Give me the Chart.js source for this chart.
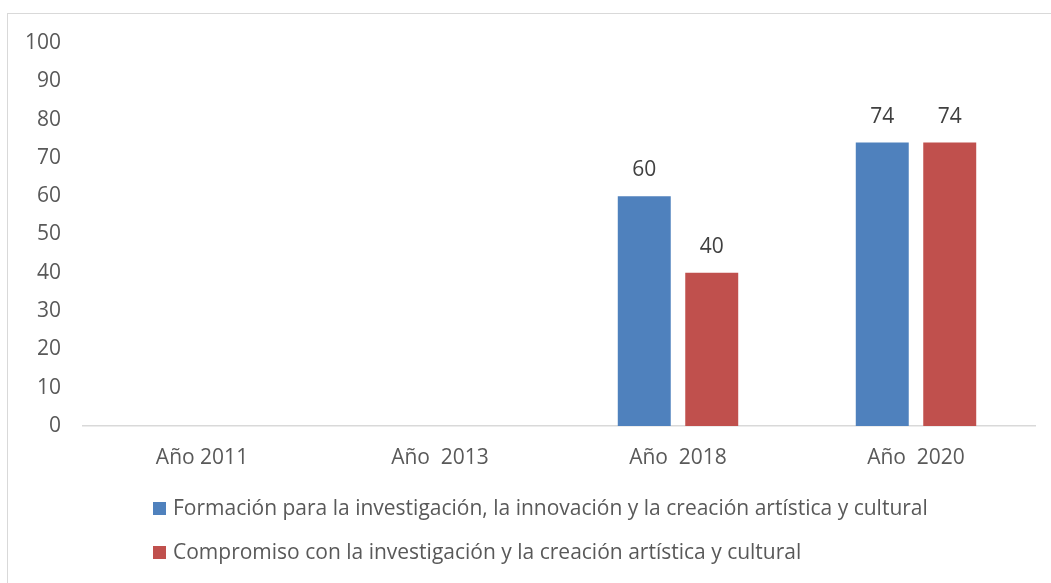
<!DOCTYPE html>
<html>
<head>
<meta charset="utf-8">
<script src="https://cdn.jsdelivr.net/npm/chart.js@4"></script>
<style>
  html, body { margin: 0; padding: 0; background: #fff; overflow: hidden; width: 1051px; height: 583px; }
  #frame { position: absolute; left: 7px; top: 13px; width: 1100px; height: 700px; border: 1px solid #d9d9d9; box-sizing: border-box; }
  #wrap { position: absolute; left: 0; top: 0; width: 1051px; height: 583px; }
</style>
</head>
<body>
<div id="frame"></div>
<div id="wrap"><canvas id="c" width="1051" height="583"></canvas></div>
<script>
const categories = ["Año 2011", "Año  2013", "Año  2018", "Año  2020"];
const seriesNames = [
  "Formación para la investigación, la innovación y la creación artística y cultural",
  "Compromiso con la investigación y la creación artística y cultural"
];
const formacion = [null, null, 60, 74];
const compromiso = [null, null, 40, 74];
const yTicks = [0, 10, 20, 30, 40, 50, 60, 70, 80, 90, 100];

const FONT = "'Open Sans', 'Noto Sans', sans-serif";
const FS = 21;
const colors = ["#4F81BD", "#C0504D"];

const dataLabels = {
  id: 'dataLabels',
  afterDatasetsDraw(chart) {
    const ctx = chart.ctx;
    ctx.save();
    ctx.font = FS + "px " + FONT;
    ctx.fillStyle = "#404040";
    ctx.textAlign = "center";
    ctx.textBaseline = "middle";
    chart.data.datasets.forEach((ds, i) => {
      const meta = chart.getDatasetMeta(i);
      meta.data.forEach((bar, j) => {
        const v = ds.data[j];
        if (v === null || v === undefined) return;
        ctx.fillText(String(v), bar.x, bar.y - 26);
      });
    });
    ctx.restore();
  }
};

const customLegend = {
  id: 'customLegend',
  afterDraw(chart) {
    const ctx = chart.ctx;
    ctx.save();
    ctx.font = FS + "px " + FONT;
    ctx.textBaseline = "middle";
    ctx.textAlign = "left";
    const x0 = 153, ys = [509, 553];
    chart.data.datasets.forEach((ds, i) => {
      ctx.fillStyle = ds.backgroundColor;
      ctx.fillRect(x0, ys[i] - 7, 13, 13);
      ctx.fillStyle = "#595959";
      ctx.fillText(ds.label, x0 + 20, ys[i]);
    });
    ctx.restore();
  }
};

new Chart(document.getElementById('c'), {
  type: 'bar',
  data: {
    labels: categories,
    datasets: [
      { label: seriesNames[0], data: formacion, backgroundColor: colors[0] },
      { label: seriesNames[1], data: compromiso, backgroundColor: colors[1] }
    ]
  },
  options: {
    responsive: false,
    animation: false,
    devicePixelRatio: 1,
    layout: { padding: { top: 43, right: 16, left: 0, bottom: 0 } },
    datasets: { bar: { categoryPercentage: 0.567, barPercentage: 0.785 } },
    plugins: {
      legend: { display: false },
      tooltip: { enabled: false }
    },
    scales: {
      x: {
        grid: { display: false, drawTicks: false },
        border: { display: true, color: '#d9d9d9', width: 1.5 },
        ticks: { color: '#595959', font: { family: FONT, size: FS }, padding: 19, maxRotation: 0 },
        afterFit(s) { s.height = 157; }
      },
      y: {
        min: 0, max: 100,
        afterBuildTicks(s) { s.ticks = yTicks.map(v => ({ value: v })); },
        grid: { display: false, drawTicks: false },
        border: { display: false },
        ticks: { color: '#595959', font: { family: FONT, size: FS }, padding: 22 },
        afterFit(s) { s.width = 83; }
      }
    }
  },
  plugins: [dataLabels, customLegend]
});
</script>
</body>
</html>
